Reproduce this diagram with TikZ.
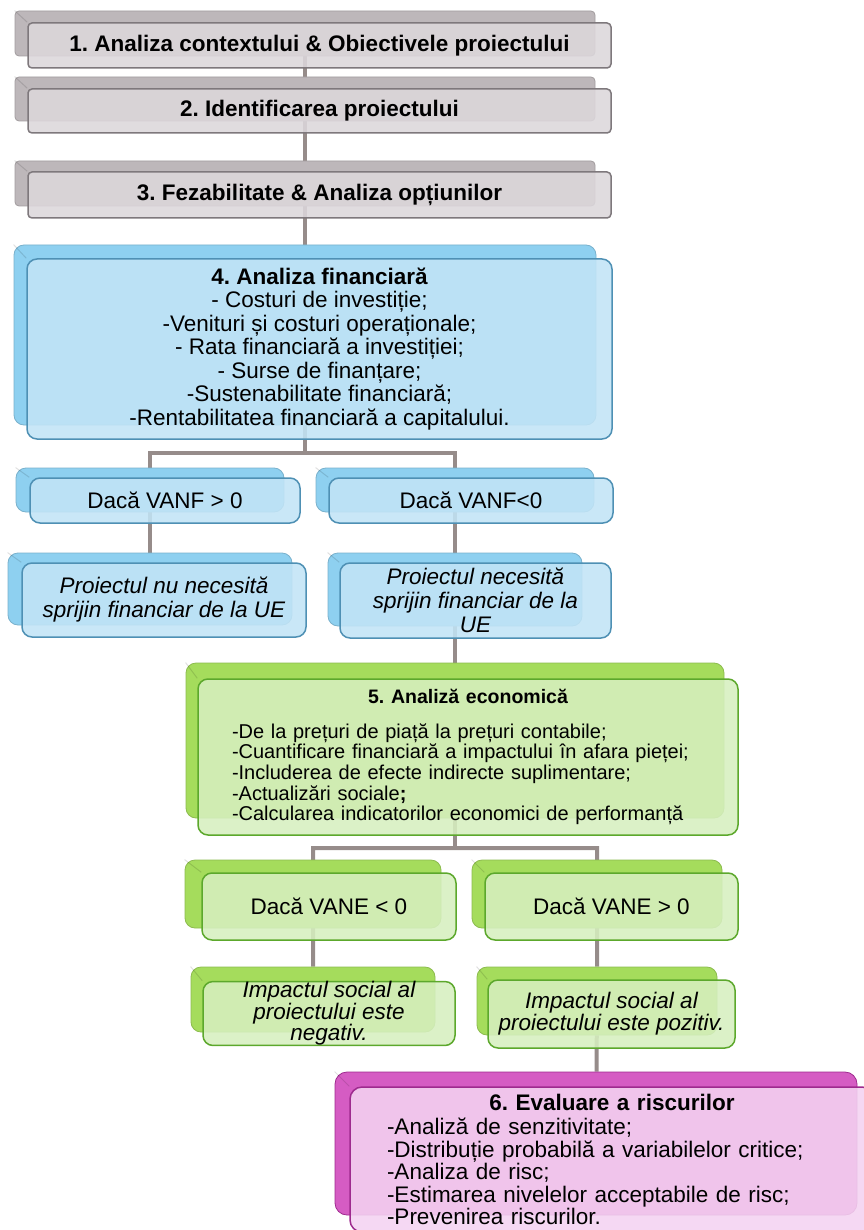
\documentclass[tikz,border=0pt]{standalone}
\usepackage{fontspec}
\setmainfont{Liberation Sans}
\usetikzlibrary{backgrounds}
\frenchspacing

\definecolor{cGrayBack}{HTML}{BDB7BA}
\definecolor{cGrayFill}{HTML}{DCD7DB}
\definecolor{cGrayLine}{HTML}{7E787C}
\definecolor{cBlueBack}{HTML}{8ED0F0}
\definecolor{cBlueFill}{HTML}{C2E4F6}
\definecolor{cBlueLine}{HTML}{4E90B4}
\definecolor{cGreenBack}{HTML}{A5DC5C}
\definecolor{cGreenFill}{HTML}{D6EFBF}
\definecolor{cGreenLine}{HTML}{5CA82C}
\definecolor{cPinkBack}{HTML}{D55CC3}
\definecolor{cPinkFill}{HTML}{F4D3F1}
\definecolor{cPinkLine}{HTML}{9E2A8E}
\definecolor{cLink}{HTML}{968C8A}

\tikzset{
    box/.style={rectangle, inner sep=0pt, line width=1.5pt, text opacity=1,
        font=\fontsize{22.5}{23.5}\selectfont},
    gback/.style={box, rounded corners=4pt, fill=cGrayBack, draw=cGrayBack!85!black, line width=.8pt},
    gfront/.style={box, rounded corners=4pt, fill=cGrayFill, draw=cGrayLine, fill opacity=.88,
        font=\bfseries\fontsize{22.5}{23.5}\selectfont},
    bback/.style={box, rounded corners=10pt, fill=cBlueBack, draw=cBlueBack!85!black, line width=.8pt},
    bfront/.style={box, rounded corners=10pt, fill=cBlueFill, draw=cBlueLine, fill opacity=.88, align=center},
    eback/.style={box, rounded corners=10pt, fill=cGreenBack, draw=cGreenBack!85!black, line width=.8pt},
    efront/.style={box, rounded corners=10pt, fill=cGreenFill, draw=cGreenLine, fill opacity=.88, align=center},
    pback/.style={box, rounded corners=12pt, fill=cPinkBack, draw=cPinkLine, line width=.8pt},
    pfront/.style={box, rounded corners=12pt, fill=cPinkFill, draw=cPinkLine, fill opacity=.88},
    bevel/.style={draw=black, opacity=.12, line width=1pt},
    link/.style={draw=cLink, line width=4pt},
}

\begin{document}
\begin{tikzpicture}[x=1pt, y=-1pt]
    \useasboundingbox (0,0) rectangle (863,1230);

    \node[gback, minimum width=580, minimum height=45] (g1bk) at (305,33.5) {};
    \node[gfront, minimum width=583, minimum height=45] (g1) at (319.5,45.5) {1. Analiza contextului \& Obiectivele proiectului};
    \node[gback, minimum width=580, minimum height=44] (g2bk) at (305,99) {};
    \node[gfront, minimum width=583, minimum height=44] (g2) at (319.5,111) {2. Identificarea proiectului};
    \node[gback, minimum width=580, minimum height=45] (g3bk) at (305,183.5) {};
    \node[gfront, minimum width=583, minimum height=46] (g3) at (319.5,195) {3. Fezabilitate \& Analiza opțiunilor};

    \node[bback, minimum width=582, minimum height=180] (b4bk) at (305,335) {};
    \node[bfront, minimum width=585, minimum height=180] (b4) at (319.5,349)
        {\textbf{4. Analiza financiară}\\- Costuri de investiție;\\-Venituri și costuri operaționale;\\- Rata financiară a investiției;\\- Surse de finanțare;\\-Sustenabilitate financiară;\\-Rentabilitatea financiară a capitalului.};

    \node[bback, minimum width=268, minimum height=44] (bl1bk) at (150,490) {};
    \node[bfront, minimum width=270, minimum height=45] (bl1) at (165,500.5) {Dacă VANF > 0};
    \node[bback, minimum width=278, minimum height=44] (br1bk) at (455,490) {};
    \node[bfront, minimum width=284, minimum height=45] (br1) at (471,500.5) {Dacă VANF<0};
    \node[bback, minimum width=284, minimum height=72] (bl2bk) at (150,589) {};
    \node[bfront, minimum width=284, minimum height=74, font=\itshape\fontsize{22.5}{24}\selectfont] (bl2) at (164,600)
        {Proiectul nu necesită\\sprijin financiar de la UE};
    \node[bback, minimum width=254, minimum height=73] (br2bk) at (455,589.5) {};
    \node[bfront, minimum width=271, minimum height=75, font=\itshape\fontsize{22.5}{24}\selectfont] (br2) at (475.5,600.5)
        {Proiectul necesită\\sprijin financiar de la\\UE};

    \node[eback, minimum width=538, minimum height=155] (g5bk) at (455,740.5) {};
    \node[efront, minimum width=540, minimum height=156, text width=472pt, align=left,
        font=\fontsize{20}{20.7}\selectfont] (g5) at (468,757)
        {\makebox[\linewidth]{\bfseries\fontsize{19.5}{20.7}\selectfont 5. Analiză economică}\\[14pt]-De la prețuri de piață la prețuri contabile;\\-Cuantificare financiară a impactului în afara pieței;\\-Includerea de efecte indirecte suplimentare;\\-Actualizări sociale\textbf{;}\\-Calcularea indicatorilor economici de performanță};

    \node[eback, minimum width=256, minimum height=68] (gl1bk) at (313,894) {};
    \node[efront, minimum width=254, minimum height=67] (gl1) at (329,906.5) {Dacă VANE < 0};
    \node[eback, minimum width=250, minimum height=68] (gr1bk) at (597,894) {};
    \node[efront, minimum width=253, minimum height=67] (gr1) at (611.5,906.5) {Dacă VANE > 0};
    \node[eback, minimum width=244, minimum height=65] (gl2bk) at (313,999.5) {};
    \node[efront, minimum width=252, minimum height=63, font=\itshape\fontsize{22.5}{21.5}\selectfont] (gl2) at (329,1013.5)
        {Impactul social al\\proiectului este\\negativ.};
    \node[eback, minimum width=240, minimum height=68] (gr2bk) at (597,1001) {};
    \node[efront, minimum width=247, minimum height=68, font=\itshape\fontsize{22.5}{22}\selectfont] (gr2) at (611.5,1014)
        {Impactul social al\\proiectului este pozitiv.};

    \node[pback, minimum width=522, minimum height=143] (m6bk) at (596,1143.5) {};
    \node[pfront, minimum width=524, minimum height=145, text width=450pt, align=left,
        font=\fontsize{22.5}{22.5}\selectfont] (m6) at (612,1159.5)
        {\makebox[\linewidth]{\bfseries 6. Evaluare a riscurilor}\\[2pt]-Analiză de senzitivitate;\\-Distribuție probabilă a variabilelor critice;\\-Analiza de risc;\\-Estimarea nivelelor acceptabile de risc;\\-Prevenirea riscurilor.};

    \foreach \n in {g1,g2,g3,b4,bl1,br1,bl2,br2,g5,gl1,gr1,gl2,gr2,m6}
        \draw[bevel] (\n bk.north west) -- (\n.north west);

    \begin{pgfonlayer}{background}
        \coordinate (jf) at (305,453);
        \coordinate (je) at (455,848);
        \draw[link] (g1bk) -- (g2bk) -- (g3bk) -- (b4bk) -- (jf);
        \draw[link] (bl2bk) |- (jf) -| (br2bk) -- (g5bk) -- (je);
        \draw[link] (gl2bk) |- (je) -| (gr2bk) -- (m6bk);
    \end{pgfonlayer}
\end{tikzpicture}
\end{document}
